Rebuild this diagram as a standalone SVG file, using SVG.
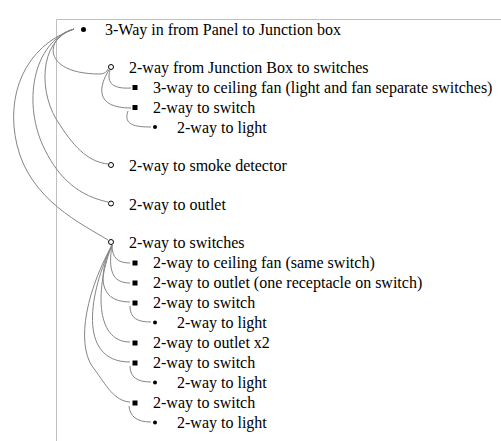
<svg xmlns="http://www.w3.org/2000/svg" width="501" height="441" viewBox="0 0 501 441">
<style>
text{font-family:'Liberation Serif','Times New Roman','DejaVu Serif',serif;font-size:16px;fill:#000}
.c{fill:none;stroke:#858585;stroke-width:1}
.frame{fill:none;stroke:#c0c0c0;stroke-width:1}
.o{fill:#fff;stroke:#000;stroke-width:1}
</style>
<rect width="501" height="441" fill="#fff"/>
<path class="frame" d="M56.5,441 V19.5 H501"/>
<g id="connectors">
<path class="c" d="M74,29 C45,36 40,74 100,74 C104,74 107,72 108,69"/>
<path class="c" d="M74,29 C38,40 38,95 60,125 C76,150 90,162 108,164"/>
<path class="c" d="M74,29 C32,42 22,105 45,150 C60,180 80,196 108,202"/>
<path class="c" d="M74,29 C25,46 5,95 17,145 C30,200 82,224 108,240"/>
<path class="c" d="M110,70 C106,84 114,89 131,88"/>
<path class="c" d="M109,70 C99,86 94,108 131,108"/>
<path class="c" d="M128,111 C123,125 135,127 151,127"/>
<path class="c" d="M112,245 C112,258 118,263 130,263"/>
<path class="c" d="M112,245 C108,270 112,283 130,283"/>
<path class="c" d="M112,245 C100,270 95,302 130,302"/>
<path class="c" d="M130,306 C130,318 137,322 151,322"/>
<path class="c" d="M112,245 C96,285 94,342 130,342"/>
<path class="c" d="M112,245 C90,290 76,362 130,362"/>
<path class="c" d="M130,366 C130,377 137,382 151,382"/>
<path class="c" d="M112,245 C82,300 77,350 95,370 C106,385 114,401 130,402"/>
<path class="c" d="M129,406 C130,416 136,422 151,422"/>
</g>
<g id="n0"><circle cx="83.5" cy="29.5" r="2.5"/><text x="105" y="35" font-family="'Liberation Serif', serif">3-Way in from Panel to Junction box</text></g>
<g id="n1"><circle class="o" cx="111" cy="67" r="2.5"/><text x="129" y="73">2-way from Junction Box to switches</text></g>
<g id="n1a"><rect x="132.5" y="85" width="5" height="5"/><text x="153" y="92.5">3-way to ceiling fan (light and fan separate switches)</text></g>
<g id="n1b"><rect x="132.5" y="105" width="5" height="5"/><text x="153" y="112.5">2-way to switch</text></g>
<g id="n1b1"><circle cx="155" cy="127" r="2"/><text x="177" y="132.5">2-way to light</text></g>
<g id="n2"><circle class="o" cx="111" cy="165" r="2.5"/><text x="129" y="171">2-way to smoke detector</text></g>
<g id="n3"><circle class="o" cx="111" cy="203.5" r="2.5"/><text x="129" y="209.5">2-way to outlet</text></g>
<g id="n4"><circle class="o" cx="111" cy="242" r="2.5"/><text x="129" y="248">2-way to switches</text></g>
<g id="n4a"><rect x="132.5" y="260.5" width="5" height="5"/><text x="153" y="268">2-way to ceiling fan (same switch)</text></g>
<g id="n4b"><rect x="132.5" y="280.5" width="5" height="5"/><text x="153" y="288">2-way to outlet (one receptacle on switch)</text></g>
<g id="n4c"><rect x="132.5" y="300.5" width="5" height="5"/><text x="153" y="308">2-way to switch</text></g>
<g id="n4c1"><circle cx="155" cy="322.5" r="2"/><text x="177" y="328">2-way to light</text></g>
<g id="n4d"><rect x="132.5" y="340.5" width="5" height="5"/><text x="153" y="348">2-way to outlet x2</text></g>
<g id="n4e"><rect x="132.5" y="360.5" width="5" height="5"/><text x="153" y="368">2-way to switch</text></g>
<g id="n4e1"><circle cx="155" cy="382.5" r="2"/><text x="177" y="388">2-way to light</text></g>
<g id="n4f"><rect x="132.5" y="400.5" width="5" height="5"/><text x="153" y="408">2-way to switch</text></g>
<g id="n4f1"><circle cx="155" cy="422.5" r="2"/><text x="177" y="428">2-way to light</text></g>
</svg>
